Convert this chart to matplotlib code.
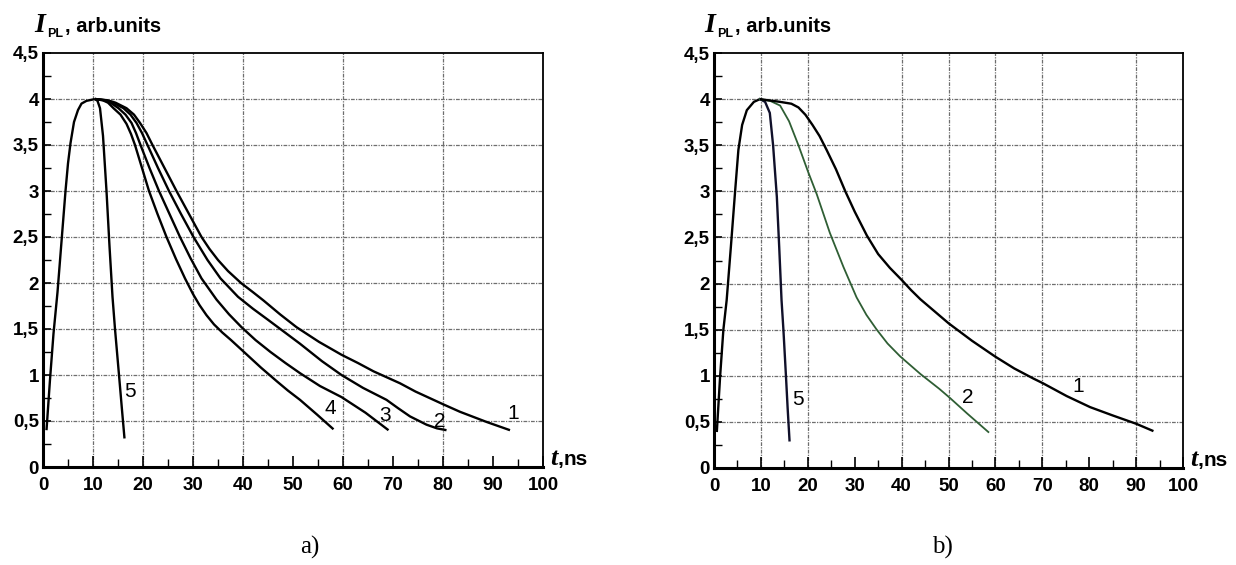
import matplotlib
matplotlib.use("Agg")
import matplotlib.pyplot as plt
from matplotlib.ticker import MultipleLocator, FixedLocator

# ---------------- data ----------------
# panel a)
rise_t_a = [0.7, 1.4, 2.1, 2.9, 3.7, 4.5, 5.0, 5.5, 6.2, 7.0, 7.7, 8.7, 9.6, 10.4]
rise_I_a = [0.40, 0.95, 1.45, 1.90, 2.45, 3.00, 3.30, 3.52, 3.75, 3.88, 3.95, 3.98, 3.99, 4.00]

c5_t_a = [10.4, 10.9, 11.4, 12.0, 12.7, 13.3, 13.9, 14.4, 15.2, 15.8, 16.3]
c5_I_a = [4.00, 3.98, 3.90, 3.60, 3.00, 2.40, 1.85, 1.50, 1.00, 0.62, 0.31]

c4_t_a = [10.4, 12.0, 13.0, 14.1, 15.5, 16.7, 17.6, 18.4, 19.8, 21.2, 22.9, 24.7, 26.6,
          28.4, 30.0, 31.3, 32.7, 34.2, 35.9, 37.6, 40.4, 43.6, 46.8, 49.0, 51.4, 54.8, 58.1]
c4_I_a = [4.00, 3.985, 3.96, 3.90, 3.83, 3.73, 3.62, 3.50, 3.25, 3.00, 2.75, 2.50, 2.26,
          2.05, 1.88, 1.76, 1.65, 1.55, 1.46, 1.38, 1.24, 1.08, 0.93, 0.83, 0.73, 0.57, 0.41]

c3_t_a = [10.4, 12.5, 13.5, 15.1, 16.5, 17.7, 18.6, 19.5, 21.3, 23.2, 25.3, 27.4, 29.5,
          31.7, 34.7, 37.2, 39.7, 42.5, 45.5, 48.5, 51.4, 55.4, 59.7, 64.5, 69.1]
c3_I_a = [4.00, 3.985, 3.96, 3.90, 3.83, 3.74, 3.63, 3.50, 3.25, 3.00, 2.75, 2.50, 2.27,
          2.05, 1.82, 1.66, 1.52, 1.38, 1.25, 1.13, 1.02, 0.88, 0.76, 0.59, 0.40]

c2_t_a = [10.4, 12.8, 14.0, 16.1, 17.5, 18.7, 19.8, 20.9, 23.0, 25.2, 27.6, 30.1, 32.9,
          35.5, 39.0, 42.0, 45.0, 48.2, 51.4, 55.8, 59.7, 64.0, 68.7, 71.0, 73.4, 76.7,
          78.8, 80.7]
c2_I_a = [4.00, 3.985, 3.96, 3.90, 3.83, 3.74, 3.63, 3.50, 3.25, 3.00, 2.75, 2.50, 2.25,
          2.05, 1.85, 1.72, 1.60, 1.47, 1.34, 1.15, 1.00, 0.86, 0.73, 0.64, 0.55, 0.46,
          0.42, 0.40]

c1_t_a = [10.4, 13.0, 14.5, 16.7, 18.2, 19.4, 20.7, 21.9, 24.3, 26.7, 29.2, 31.7, 33.3,
          35.0, 37.0, 39.6, 42.0, 44.1, 47.4, 50.7, 55.2, 59.7, 63.0, 66.1, 71.4, 74.5,
          77.7, 80.1, 83.4, 88.7, 93.4]
c1_I_a = [4.00, 3.985, 3.96, 3.90, 3.83, 3.74, 3.63, 3.50, 3.25, 3.00, 2.75, 2.50, 2.37,
          2.25, 2.13, 2.00, 1.90, 1.81, 1.66, 1.52, 1.36, 1.22, 1.13, 1.04, 0.91, 0.82,
          0.74, 0.68, 0.60, 0.49, 0.40]

labels_a = ["1", "2", "3", "4", "5"]
label_t_a = [94.0, 79.4, 68.4, 57.4, 17.4]
label_I_a = [0.58, 0.49, 0.56, 0.64, 0.82]

# panel b)
rise_t_b = [0.6, 1.3, 2.0, 2.7, 3.6, 4.5, 5.2, 6.0, 7.0, 8.5, 9.8]
rise_I_b = [0.39, 0.99, 1.50, 1.82, 2.40, 3.00, 3.45, 3.72, 3.88, 3.97, 4.00]

c5_t_b = [9.8, 10.9, 11.9, 12.6, 13.4, 13.9, 14.4, 14.8, 15.35, 15.7, 16.1]
c5_I_b = [4.00, 3.97, 3.85, 3.50, 2.94, 2.40, 1.82, 1.50, 0.99, 0.65, 0.30]

c2_t_b = [9.8, 12.0, 14.1, 16.0, 18.0, 20.0, 21.9, 24.7, 27.6, 30.4, 32.5, 34.7,
          37.0, 39.7, 44.0, 48.0, 50.3, 54.0, 58.5]
c2_I_b = [4.00, 3.98, 3.93, 3.76, 3.50, 3.22, 2.97, 2.55, 2.18, 1.85, 1.66, 1.50,
          1.35, 1.21, 1.02, 0.86, 0.76, 0.59, 0.39]

c1_t_b = [9.8, 11.2, 14.1, 16.5, 18.0, 19.5, 21.0, 22.5, 24.0, 26.0, 28.0, 30.0, 32.6,
          35.0, 37.5, 40.0, 42.0, 44.0, 47.0, 50.0, 55.0, 59.9, 64.0, 68.1, 70.1, 75.2,
          80.2, 85.0, 90.0, 93.7]
c1_I_b = [4.00, 3.99, 3.97, 3.95, 3.91, 3.83, 3.72, 3.60, 3.45, 3.24, 3.00, 2.78, 2.52,
          2.32, 2.17, 2.04, 1.93, 1.83, 1.70, 1.57, 1.38, 1.21, 1.08, 0.97, 0.92, 0.78,
          0.66, 0.57, 0.48, 0.40]

labels_b = ["1", "2", "5"]
label_t_b = [77.7, 54.2, 18.0]
label_I_b = [0.88, 0.76, 0.74]

x_ticks = [0, 10, 20, 30, 40, 50, 60, 70, 80, 90, 100]
y_ticks = [0, 0.5, 1, 1.5, 2, 2.5, 3, 3.5, 4, 4.5]
y_tick_labels = ["0", "0,5", "1", "1,5", "2", "2,5", "3", "3,5", "4", "4,5"]
grid_x_a = [10, 20, 30, 40, 60, 80]
grid_x_b = [10, 20, 40, 50, 60, 70, 90]
grid_y = [0.5, 1, 1.5, 2, 2.5, 3, 3.5, 4]

# ---------------- figure ----------------
W, H = 1236, 565
fig = plt.figure(figsize=(W / 100, H / 100), dpi=100)
fig.patch.set_facecolor("white")

SANS = "Liberation Sans"
SERIF = "Liberation Serif"


def fx(px):
    return px / W


def fy(py):
    return 1 - py / H


def style_axes(ax, grid_x):
    ax.set_xlim(0, 100)
    ax.set_ylim(0, 4.5)
    ax.xaxis.set_major_locator(FixedLocator(x_ticks))
    ax.xaxis.set_minor_locator(MultipleLocator(5))
    ax.yaxis.set_major_locator(FixedLocator(y_ticks))
    ax.yaxis.set_minor_locator(MultipleLocator(0.25))
    ax.set_yticklabels(y_tick_labels)
    ax.set_xticklabels([str(v) for v in x_ticks])
    for lab in ax.get_xticklabels() + ax.get_yticklabels():
        lab.set_fontfamily(SANS)
        lab.set_fontweight("bold")
        lab.set_fontsize(13.5)
    ax.tick_params(axis="x", which="major", direction="in", length=8, width=1.2,
                   pad=7, top=False)
    ax.tick_params(axis="x", which="minor", direction="in", length=6, width=1.0, top=False)
    ax.tick_params(axis="y", which="major", direction="in", length=6, width=1.2,
                   pad=3, right=False)
    ax.tick_params(axis="y", which="minor", direction="in", length=6, width=1.0, right=False)
    for s in ["left", "bottom"]:
        ax.spines[s].set_linewidth(2.2)
    for s in ["top", "right"]:
        ax.spines[s].set_linewidth(1.3)
    for gx in grid_x:
        ax.axvline(gx, color="#6e6e6e", lw=0.9, ls=(0, (3, 1, 1, 1)), zorder=1)
    for gy in grid_y:
        ax.axhline(gy, color="#6e6e6e", lw=0.9, ls=(0, (3, 1, 1, 1)), zorder=1)


axA = fig.add_axes([fx(43), fy(467), 500 / W, 414 / H])
axB = fig.add_axes([fx(714), fy(468), 469 / W, 415 / H])
style_axes(axA, grid_x_a)
style_axes(axB, grid_x_b)

LW = 1.7
kw = dict(color="black", lw=LW, solid_capstyle="butt", solid_joinstyle="round", zorder=3)
axA.plot(rise_t_a, rise_I_a, **kw)
axA.plot(c5_t_a, c5_I_a, **kw)
axA.plot(c4_t_a, c4_I_a, **kw)
axA.plot(c3_t_a, c3_I_a, **kw)
axA.plot(c2_t_a, c2_I_a, **kw)
axA.plot(c1_t_a, c1_I_a, **kw)
for s, t, v in zip(labels_a, label_t_a, label_I_a):
    axA.text(t, v, s, fontfamily=SANS, fontsize=15, ha="center", va="center", zorder=4)

axB.plot(rise_t_b, rise_I_b, **kw)
axB.plot(c5_t_b, c5_I_b, color="#10102a", lw=LW, solid_joinstyle="round", zorder=3)
axB.plot(c2_t_b, c2_I_b, color="#2f5e34", lw=1.3, solid_joinstyle="round", zorder=3)
axB.plot(c1_t_b, c1_I_b, **kw)
for s, t, v in zip(labels_b, label_t_b, label_I_b):
    axB.text(t, v, s, fontfamily=SANS, fontsize=15, ha="center", va="center", zorder=4)

# axis titles
for x0 in (34, 704):
    fig.text(fx(x0), fy(32), "I", fontfamily=SERIF, fontweight="bold", fontstyle="italic",
             fontsize=20, va="baseline", ha="left")
    fig.text(fx(x0 + 13), fy(37), "PL", fontfamily=SANS, fontweight="bold",
             fontsize=9, va="baseline", ha="left")
    fig.text(fx(x0 + 31), fy(32), ", arb.units", fontfamily=SANS, fontweight="bold",
             fontsize=14.5, va="baseline", ha="left")

for x0, yb in ((550, 465), (1190, 466)):
    fig.text(fx(x0), fy(yb), "t", fontfamily=SERIF, fontweight="bold", fontstyle="italic",
             fontsize=19, va="baseline", ha="left")
    fig.text(fx(x0 + 8), fy(yb), ",", fontfamily=SANS, fontweight="bold",
             fontsize=15, va="baseline", ha="left")
    fig.text(fx(x0 + 14), fy(yb), "ns", fontfamily=SANS, fontweight="bold",
             fontsize=15, va="baseline", ha="left")

fig.text(fx(310), fy(554), "a)", fontfamily=SERIF, fontsize=18, ha="center", va="baseline")
fig.text(fx(942), fy(554), "b)", fontfamily=SERIF, fontsize=18, ha="center", va="baseline")

fig.savefig("out.png", dpi=100, facecolor="white")
